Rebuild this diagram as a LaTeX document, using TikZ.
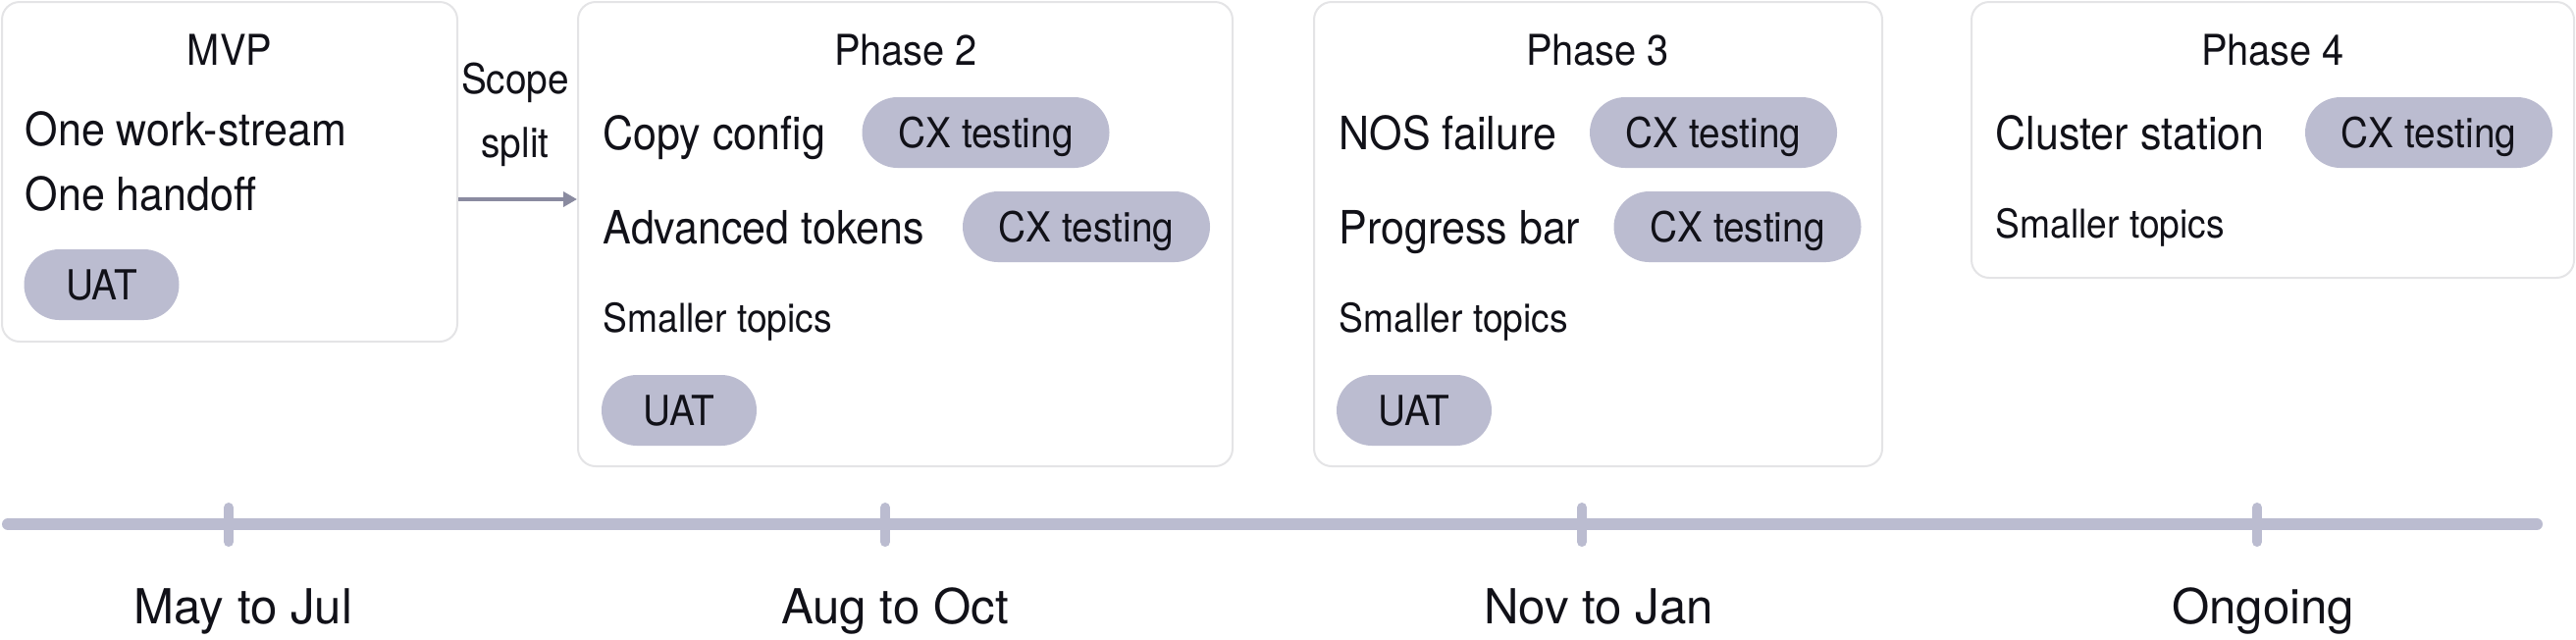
\documentclass[tikz,border=0pt]{standalone}
\usepackage{fontspec}
\setmainfont{TeX Gyre Heros}
\newfontfamily\narrowfont[FakeStretch=0.92]{TeX Gyre Heros}
\usepackage{xcolor}
\usepackage{tikz}
\usetikzlibrary{arrows.meta}

\definecolor{pillgray}{RGB}{187,188,208}
\definecolor{cardline}{RGB}{228,228,230}
\definecolor{flowgray}{RGB}{138,139,160}
\definecolor{inkblack}{RGB}{17,17,24}

\tikzset{
  card/.style={draw=cardline, line width=0.2mm, rounded corners=1.8mm, fill=white, inner sep=0},
  title/.style={anchor=base, inner sep=0, text=inkblack, font=\narrowfont\fontsize{12.3pt}{14pt}\selectfont},
  note/.style={anchor=base, inner sep=0, text=inkblack, font=\narrowfont\fontsize{12pt}{14pt}\selectfont},
  item/.style={anchor=base west, inner sep=0, text=inkblack, font=\narrowfont\fontsize{13.3pt}{15pt}\selectfont},
  minor/.style={anchor=base west, inner sep=0, text=inkblack, font=\narrowfont\fontsize{11.5pt}{13pt}\selectfont},
  pill/.style={fill=pillgray, rounded corners=3.6mm, minimum height=7.2mm, inner sep=0,
    text height=8.6pt, text depth=0pt, text=inkblack, font=\narrowfont\fontsize{12pt}{14pt}\selectfont},
  cxpill/.style={pill, minimum width=25.2mm},
  uatpill/.style={pill, minimum width=15.8mm},
  flow/.style={draw=flowgray, line width=0.35mm, -{Triangle[length=1.4mm,width=1.5mm]}},
  axis/.style={draw=pillgray, line width=1.2mm, line cap=round},
  tick/.style={draw=pillgray, line width=1mm, line cap=round},
  period/.style={anchor=base, inner sep=0, text=inkblack, font=\fontsize{14pt}{16pt}\selectfont},
}

\begin{document}
\begin{tikzpicture}[x=0.1mm, y=-0.1mm]
\useasboundingbox (0,0) rectangle (2625,651);

% phase cards
\node[card, minimum width=46.4mm, minimum height=34.6mm] (mvp) at (234,175) {};
\node[card, minimum width=66.7mm, minimum height=47.3mm] (phase2) at (922.5,238.5) {};
\node[card, minimum width=57.9mm, minimum height=47.3mm] (phase3) at (1628.5,238.5) {};
\node[card, minimum width=61.4mm, minimum height=28.1mm] (phase4) at (2316,142.5) {};

% MVP
\node[title] (mvp-title) at (234,66) {MVP};
\node[item] (mvp-stream) at (25,148) {One work-stream};
\node[item] (mvp-handoff) at (25,214) {One handoff};
\node[uatpill] (mvp-uat) at (103.5,290) {UAT};

% scope split arrow
\node[note] (scope) at (525,95) {Scope};
\node[note] (split) at (525,160) {split};
\coordinate (flow-y) at (0,203);
\draw[flow] (mvp.east |- flow-y) -- (phase2.west |- flow-y);

% Phase 2
\node[title] (p2-title) at (923,66) {Phase 2};
\node[item] (p2-copy) at (614,152) {Copy config};
\node[cxpill] (p2-copy-cx) at (1004.5,135) {CX testing};
\node[item] (p2-tokens) at (614,248) {Advanced tokens};
\node[cxpill] (p2-tokens-cx) at (1107,231) {CX testing};
\node[minor] (p2-minor) at (614,338) {Smaller topics};
\node[uatpill] (p2-uat) at (692,418) {UAT};

% Phase 3
\node[title] (p3-title) at (1628,66) {Phase 3};
\node[item] (p3-nos) at (1364,152) {NOS failure};
\node[cxpill] (p3-nos-cx) at (1746,135) {CX testing};
\node[item] (p3-progress) at (1364,248) {Progress bar};
\node[cxpill] (p3-progress-cx) at (1770.5,231) {CX testing};
\node[minor] (p3-minor) at (1364,338) {Smaller topics};
\node[uatpill] (p3-uat) at (1441,418) {UAT};

% Phase 4
\node[title] (p4-title) at (2316,66) {Phase 4};
\node[item] (p4-cluster) at (2033,152) {Cluster station};
\node[cxpill] (p4-cluster-cx) at (2475,135) {CX testing};
\node[minor] (p4-minor) at (2033,242) {Smaller topics};

% timeline
\coordinate (axis-start) at (8,534);
\coordinate (axis-end) at (2585,534);
\draw[axis] (axis-start) -- (axis-end);
\foreach \tx/\lx/\name/\txt in {233/248/may/May to Jul, 902/912/aug/Aug to Oct,
    1612/1629/nov/Nov to Jan, 2300/2306/ongoing/Ongoing} {
  \draw[tick] (\tx,517) -- (\tx,552);
  \node[period] (\name) at (\lx,635) {\txt};
}
\end{tikzpicture}
\end{document}
